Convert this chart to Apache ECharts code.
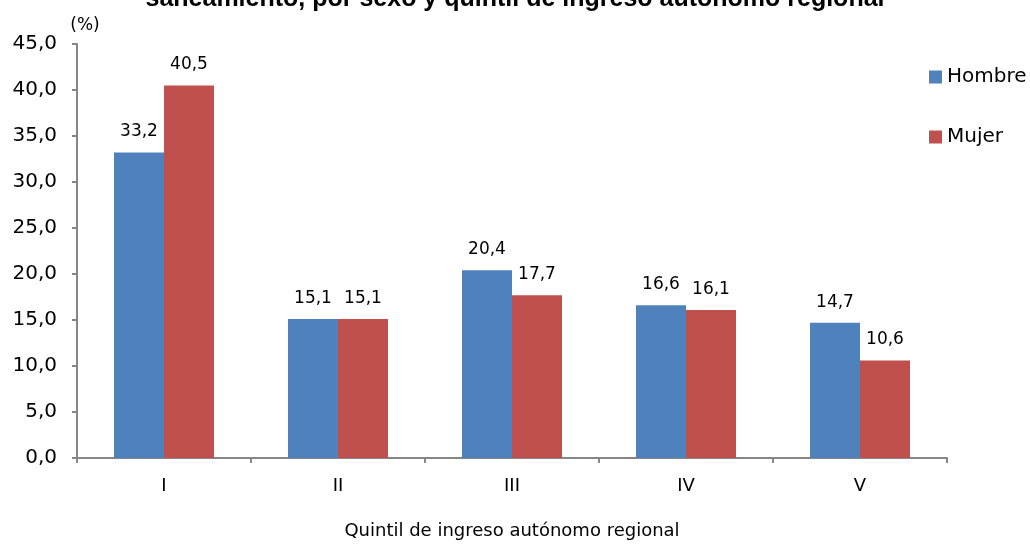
<!DOCTYPE html>
<html>
<head>
<meta charset="utf-8">
<script src="https://cdn.jsdelivr.net/npm/echarts@6/dist/echarts.min.js"></script>
<style>
  html, body { margin: 0; padding: 0; background: #fff; }
  #chart { width: 1030px; height: 544px; }
</style>
</head>
<body>
<div id="chart"></div>
<script>
var quintiles = ['I', 'II', 'III', 'IV', 'V']
var hombre = [33.2, 15.1, 20.4, 16.6, 14.7]
var mujer = [40.5, 15.1, 17.7, 16.1, 10.6]

var fmt = function (v) { return Number(v).toFixed(1).replace('.', ',') }
var font = 'DejaVu Sans, Verdana, sans-serif'

var chart = echarts.init(document.getElementById('chart'))
chart.setOption({
  animation: false,
  title: {
    text: 'saneamiento, por sexo y quintil de ingreso autónomo regional',
    left: 'center',
    top: -13,
    padding: 0,
    textStyle: { fontFamily: 'Liberation Sans, Arial', fontWeight: 'bold', fontSize: 25, color: '#000' }
  },
  legend: {
    orient: 'vertical',
    left: 929,
    top: 67,
    padding: 0,
    itemWidth: 13,
    itemHeight: 13,
    itemGap: 40,
    icon: 'rect',
    textStyle: { fontFamily: font, fontSize: 20, color: '#000' },
    data: ['Hombre', 'Mujer']
  },
  grid: { left: 77, right: 83, top: 44, bottom: 86, outerBoundsMode: 'none' },
  xAxis: {
    type: 'category',
    data: quintiles,
    name: 'Quintil de ingreso autónomo regional',
    nameLocation: 'middle',
    nameGap: 64,
    nameTextStyle: { fontFamily: font, fontSize: 18, color: '#000' },
    axisLine: { lineStyle: { color: '#868686', width: 2 } },
    axisTick: { show: true, length: 5, lineStyle: { color: '#868686', width: 2 } },
    axisLabel: { fontFamily: font, fontSize: 18, color: '#000', margin: 19 }
  },
  yAxis: {
    type: 'value',
    min: 0,
    max: 45,
    interval: 5,
    name: '(%)',
    nameGap: 10,
    nameTextStyle: { fontFamily: font, fontSize: 17, color: '#000', padding: [0, 0, 0, 16] },
    axisLine: { show: true, lineStyle: { color: '#868686', width: 2 } },
    axisTick: { show: true, length: 5, lineStyle: { color: '#868686', width: 2 } },
    splitLine: { show: false },
    axisLabel: { fontFamily: font, fontSize: 20, color: '#000', margin: 20, formatter: fmt }
  },
  series: [
    {
      name: 'Hombre',
      type: 'bar',
      barWidth: 50,
      barGap: '0%',
      itemStyle: { color: '#4F81BD' },
      label: { show: true, position: 'top', distance: 12, fontFamily: font, fontSize: 17, color: '#000', formatter: function (p) { return fmt(p.value) } },
      data: hombre
    },
    {
      name: 'Mujer',
      type: 'bar',
      barWidth: 50,
      itemStyle: { color: '#C0504D' },
      label: { show: true, position: 'top', distance: 12, fontFamily: font, fontSize: 17, color: '#000', formatter: function (p) { return fmt(p.value) } },
      data: mujer
    }
  ]
})
</script>
</body>
</html>
